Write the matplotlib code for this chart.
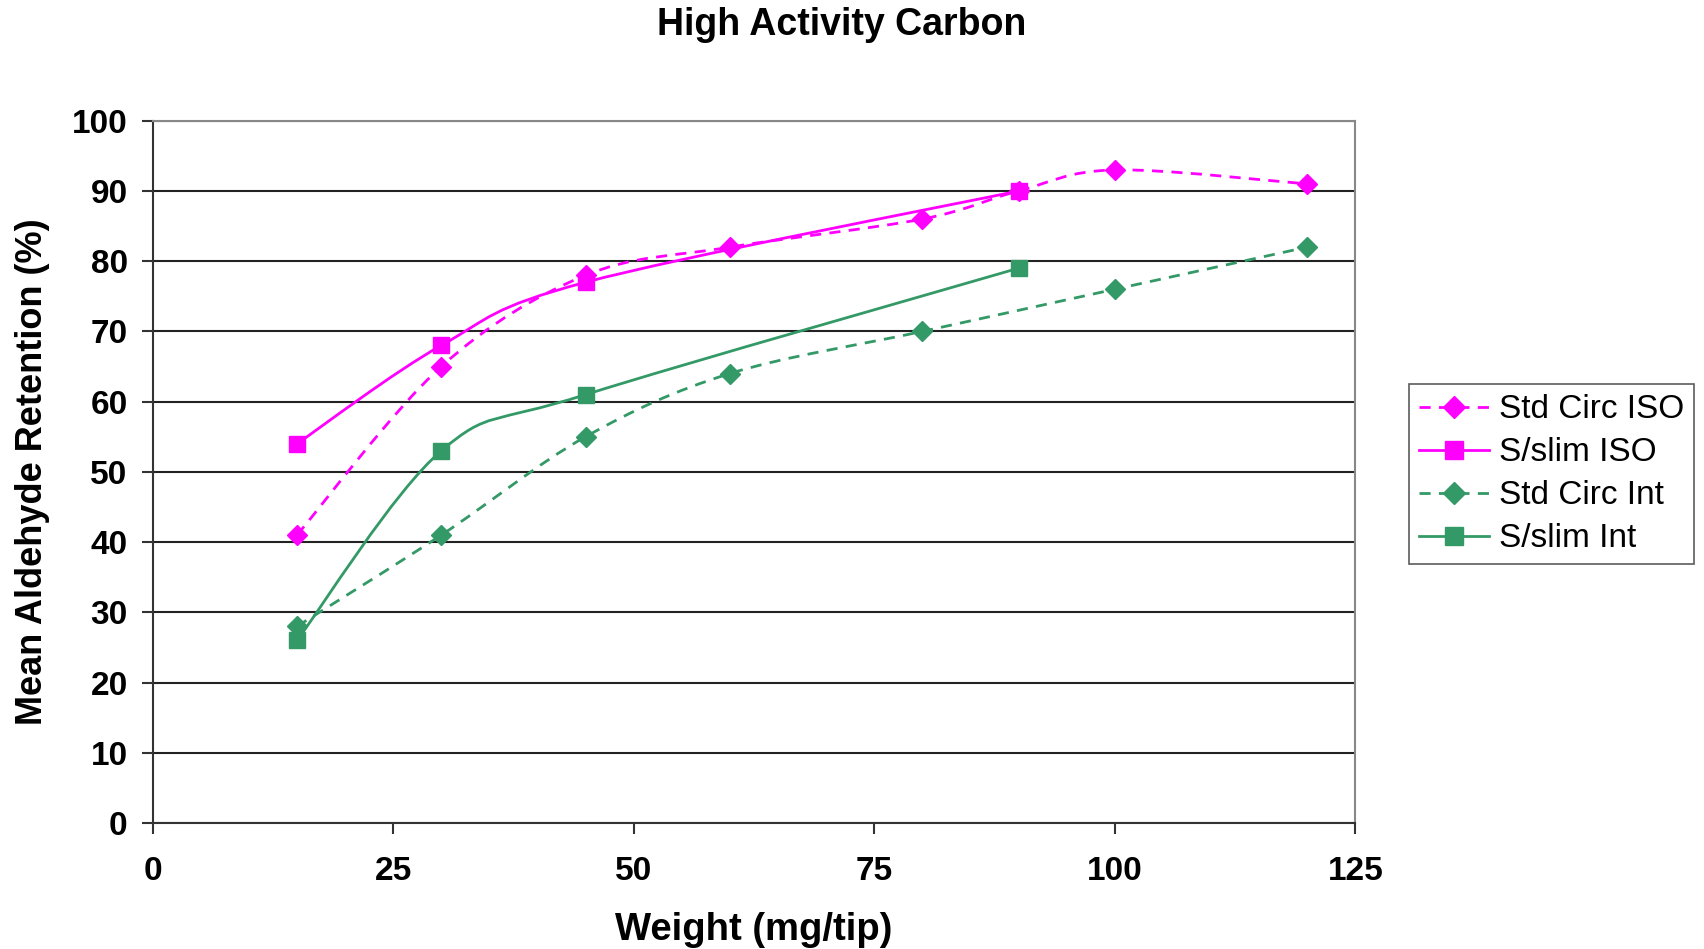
import numpy as np
import matplotlib.pyplot as plt
from matplotlib.path import Path
from matplotlib.patches import PathPatch
from matplotlib.lines import Line2D

plt.rcParams['font.family'] = ['Liberation Sans', 'DejaVu Sans']

# data
std_iso_x = [15, 30, 45, 60, 80, 90, 100, 120]
std_iso_y = [41, 65, 78, 82, 86, 90, 93, 91]
slim_iso_x = [15, 30, 45, 90]
slim_iso_y = [54, 68, 77, 90]
std_int_x = [15, 30, 45, 60, 80, 100, 120]
std_int_y = [28, 41, 55, 64, 70, 76, 82]
slim_int_x = [15, 30, 45, 90]
slim_int_y = [26, 53, 61, 79]

labels = ["Std Circ ISO", "S/slim ISO", "Std Circ Int", "S/slim Int"]

MAGENTA = "#FF00FF"
GREEN = "#339966"


# excel-like smoothed line (catmull-rom bezier through the points)
def smooth_path(x, y):
    p = np.column_stack((x, y)).astype(float)
    n = len(p)
    verts = [p[0]]
    codes = [Path.MOVETO]
    for i in range(n - 1):
        p0 = p[i - 1] if i > 0 else p[i]
        p1 = p[i]
        p2 = p[i + 1]
        p3 = p[i + 2] if i + 2 < n else p[i + 1]
        c1 = p1 + (p2 - p0) / 6.0
        c2 = p2 - (p3 - p1) / 6.0
        verts += [c1, c2, p2]
        codes += [Path.CURVE4] * 3
    return Path(verts, codes)


fig = plt.figure(figsize=(17.04, 9.49), dpi=100)
ax = fig.add_axes([0.0896, 0.1328, 0.7058, 0.740])

series = [
    (std_iso_x, std_iso_y, MAGENTA, (0, (4, 3)), "D", 10.5),
    (slim_iso_x, slim_iso_y, MAGENTA, "-", "s", 11.5),
    (std_int_x, std_int_y, GREEN, (0, (4, 3)), "D", 10.5),
    (slim_int_x, slim_int_y, GREEN, "-", "s", 11.5),
]

handles = []
for (x, y, col, ls, mk, ms), lab in zip(series, labels):
    patch = PathPatch(smooth_path(x, y), facecolor="none", edgecolor=col,
                      lw=2, linestyle=ls, zorder=3)
    ax.add_patch(patch)
    ax.plot(x, y, linestyle="none", marker=mk, ms=ms, color=col,
            markeredgecolor=col, zorder=4)
    handles.append(Line2D([], [], color=col, lw=2, linestyle=ls,
                          marker=mk, ms=ms + 1, markeredgecolor=col))

ax.set_xlim(0, 125)
ax.set_ylim(0, 100)
ax.set_xticks([0, 25, 50, 75, 100, 125])
ax.set_yticks(range(0, 101, 10))
ax.yaxis.grid(True, color="#222222", lw=1.5)
ax.set_axisbelow(True)
for s in ["left", "bottom"]:
    ax.spines[s].set_color("#333333")
    ax.spines[s].set_linewidth(1.5)
for s in ["top", "right"]:
    ax.spines[s].set_color("#888888")
    ax.spines[s].set_linewidth(1.5)
ax.tick_params(axis="both", direction="out", length=8, width=1.5,
               color="#333333", labelsize=24, pad=10)
ax.tick_params(axis="x", pad=16)
for t in ax.get_xticklabels() + ax.get_yticklabels():
    t.set_fontweight("bold")

ax.set_xlabel("Weight (mg/tip)", fontsize=27.5, fontweight="bold", labelpad=18)
ax.set_ylabel("Mean Aldehyde Retention (%)", fontsize=26, fontweight="bold",
              labelpad=16)
fig.text(0.494, 0.974, "High Activity Carbon", ha="center", va="center",
         fontsize=27, fontweight="bold")

leg = fig.legend(handles, labels, loc="upper left",
                 bbox_to_anchor=(0.827, 0.595), borderaxespad=0,
                 fontsize=24, frameon=True, fancybox=False,
                 handlelength=2.1, labelspacing=0.36, borderpad=0.3,
                 handletextpad=0.3)
leg.get_frame().set_edgecolor("#333333")
leg.get_frame().set_linewidth(1.2)

fig.savefig("out.png", dpi=100)
